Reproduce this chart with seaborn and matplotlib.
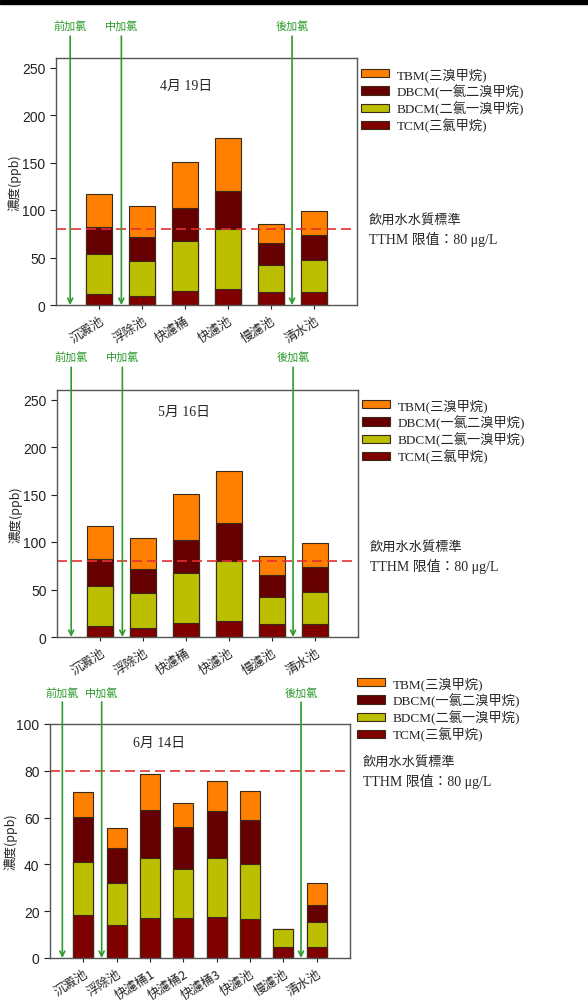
import numpy as np
import pandas as pd
import matplotlib.pyplot as plt
import seaborn as sns
from matplotlib.patches import Patch, Rectangle

sns.set_style("ticks")
plt.rcParams['font.family'] = ['Liberation Sans', 'Noto Sans CJK TC']

# data
sites_6 = ['沉澱池', '浮除池', '快濾桶', '快濾池', '慢濾池', '清水池']
sites_8 = ['沉澱池', '浮除池', '快濾桶1', '快濾桶2', '快濾桶3', '快濾池', '慢濾池', '清水池']

apr_tcm = [11.3, 9.5, 14.8, 16.5, 13.4, 14.1]
apr_bdcm = [42.2, 37.0, 52.1, 63.1, 28.9, 33.4]
apr_dbcm = [28.9, 25.0, 34.9, 40.5, 23.2, 25.7]
apr_tbm = [34.5, 32.4, 48.5, 55.2, 20.1, 25.7]

may_tcm = [11.5, 9.6, 14.9, 16.6, 13.5, 14.2]
may_bdcm = [42.1, 36.9, 52.0, 63.0, 28.8, 33.3]
may_dbcm = [29.0, 25.1, 35.0, 40.5, 23.2, 25.7]
may_tbm = [34.0, 32.3, 48.4, 55.1, 20.2, 25.6]

jun_tcm = [18.5, 14.0, 17.0, 17.2, 17.5, 16.5, 4.7, 4.8]
jun_bdcm = [22.5, 18.1, 25.6, 20.7, 25.4, 23.8, 7.8, 10.7]
jun_dbcm = [19.3, 14.9, 20.5, 18.1, 19.8, 18.5, 0.0, 7.3]
jun_tbm = [10.6, 8.6, 15.4, 10.1, 12.9, 12.4, 0.0, 9.4]

comp_names = ['TBM(三溴甲烷)', 'DBCM(一氯二溴甲烷)', 'BDCM(二氯一溴甲烷)', 'TCM(三氯甲烷)']
comp_colors = ['#FF8000', '#660000', '#BBBF00', '#800000']

GREEN = '#2E9B2E'
W, H = 588, 1003

fig = plt.figure(figsize=(W / 100, H / 100), dpi=100)
fig.add_artist(Rectangle((0, 1 - 5 / H), 1, 4 / H, transform=fig.transFigure,
                         color='black', zorder=10))


def px_rect(l, t, r, b):
    return [l / W, 1 - b / H, (r - l) / W, (b - t) / H]


def draw_panel(rect, sites, tcm, bdcm, dbcm, tbm, ymax, yticks, date,
               date_xy, arrows, arrow_top, label_y, leg_xy, std_xy, ylab_x):
    ax = fig.add_axes(rect)
    df = pd.DataFrame({'site': sites, 'TCM': tcm, 'BDCM': bdcm,
                       'DBCM': dbcm, 'TBM': tbm})
    df['c1'] = df['TCM']
    df['c2'] = df['c1'] + df['BDCM']
    df['c3'] = df['c2'] + df['DBCM']
    df['c4'] = df['c3'] + df['TBM']
    for col, color in zip(['c4', 'c3', 'c2', 'c1'], comp_colors):
        sns.barplot(data=df, x='site', y=col, order=sites, color=color,
                    saturation=1, width=0.6, edgecolor='#3a2a1a',
                    linewidth=0.8, errorbar=None, ax=ax)
    n = len(sites)
    ax.set_xlim(-1, n)
    ax.set_ylim(0, ymax)
    ax.set_yticks(yticks)
    ax.axhline(80, xmin=0, xmax=0.99, color='#E53030', ls=(0, (6, 3)), lw=1.2)
    ax.set_xlabel('')
    ax.set_ylabel('濃度(ppb)', family=['Noto Sans CJK TC', 'Liberation Serif'],
                  fontsize=9)
    ax.yaxis.set_label_coords(ylab_x, 0.5)
    ax.set_xticks(range(n))
    ax.set_xticklabels(sites, rotation=32, ha='right', rotation_mode='anchor',
                       fontsize=9, family=['Noto Sans CJK TC'])
    ax.tick_params(axis='y', labelsize=10, length=4, width=0.8, colors='#222222')
    ax.tick_params(axis='x', length=3, width=0.8, colors='#222222')
    for sp in ax.spines.values():
        sp.set_color('#555555')
        sp.set_linewidth(1.0)

    for (xa, lab) in arrows:
        ax.annotate('', xy=(xa, 0), xytext=(xa, arrow_top),
                    arrowprops=dict(arrowstyle='->', color=GREEN, lw=1.2,
                                    mutation_scale=9, shrinkA=0, shrinkB=0),
                    annotation_clip=False)
        ax.text(xa, label_y, lab, color=GREEN, fontsize=8, ha='center',
                va='center', family=['Noto Sans CJK TC'], clip_on=False)

    ax.text(date_xy[0], date_xy[1], date, fontsize=10, ha='left', va='center',
            family=['Liberation Serif', 'Noto Sans CJK TC'])

    handles = [Patch(facecolor=c, edgecolor='#3a2a1a', linewidth=0.8)
               for c in comp_colors]
    fig.legend(handles, comp_names, loc='upper left',
               bbox_to_anchor=(leg_xy[0] / W, 1 - leg_xy[1] / H),
               frameon=False, borderpad=0, borderaxespad=0,
               labelspacing=0.2, handlelength=2.1, handleheight=0.6,
               handletextpad=0.6,
               prop={'family': ['Liberation Serif', 'Noto Sans CJK TC'],
                     'size': 9.5})
    fig.text(std_xy[0] / W, 1 - std_xy[1] / H, '飲用水水質標準', fontsize=9.5,
             va='center', family=['Noto Sans CJK TC'])
    fig.text(std_xy[0] / W, 1 - (std_xy[1] + 19) / H, 'TTHM 限值：80 μg/L',
             fontsize=10, va='center',
             family=['Liberation Serif', 'Noto Sans CJK TC'])
    return ax


draw_panel(px_rect(56, 59, 357, 306), sites_6, apr_tcm, apr_bdcm, apr_dbcm,
           apr_tbm, 260, [0, 50, 100, 150, 200, 250], '4月 19日', (1.42, 231),
           [(-0.67, '前加氯'), (0.52, '中加氯'), (4.49, '後加氯')], 283, 294,
           (361, 68), (369, 220), -0.113)

draw_panel(px_rect(57, 391, 358, 638), sites_6, may_tcm, may_bdcm, may_dbcm,
           may_tbm, 260, [0, 50, 100, 150, 200, 250], '5月 16日', (1.35, 237),
           [(-0.67, '前加氯'), (0.52, '中加氯'), (4.49, '後加氯')], 284, 295,
           (362, 399), (370, 547), -0.113)

draw_panel(px_rect(50, 725, 350, 959), sites_8, jun_tcm, jun_bdcm, jun_dbcm,
           jun_tbm, 100, [0, 20, 40, 60, 80, 100], '6月 14日', (1.5, 92.3),
           [(-0.63, '前加氯'), (0.55, '中加氯'), (6.53, '後加氯')], 109.4, 113.7,
           (357, 677), (363, 762), -0.107)

fig.savefig('out.png', dpi=100, facecolor='white')
